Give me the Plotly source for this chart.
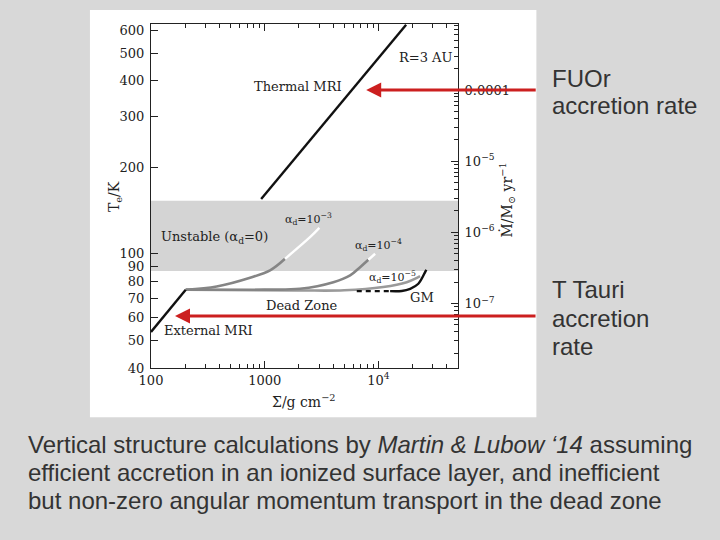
import numpy as np
import plotly.graph_objects as go

# ---------------- data ----------------
band_sigma = [100, 50000, 50000, 100, 100]
band_T = [87, 87, 153, 153, 87]

ext_sigma = [100, 202]
ext_T = [53.4, 74.9]

thermal_sigma = [930, 17500]
thermal_T = [155, 627]

a3_sigma = [202, 378, 743, 1114, 1507]
a3_T = [74.9, 76.9, 82.5, 87.5, 96.0]
a3w_sigma = [1507, 2500, 3020]
a3w_T = [96.0, 114.2, 123.0]

a4_sigma = [202, 1000, 2040, 4010, 5630, 6890, 8150]
a4_T = [74.9, 75.0, 75.5, 79.6, 84.1, 89.8, 95.3]
a4w_sigma = [8150, 9340]
a4w_T = [95.3, 100.0]

a5_sigma = [202, 2000, 5000, 11000, 17700, 22400, 23200]
a5_T = [74.9, 74.5, 74.6, 76.6, 79.6, 82.9, 83.5]

dz_sigma = [6440, 12650]
dz_T = [74.1, 74.1]

gm_sigma = [12650, 16000, 19000, 22400, 25700, 26300]
gm_T = [74.1, 74.2, 75.5, 78.6, 86.3, 88.0]

T_ticks = [40, 50, 60, 70, 80, 90, 100, 200, 300, 400, 500, 600]
sigma_ticks = [100, 1000, 10000]
sigma_ticktext = ["100", "1000", "10<sup>4</sup>"]
sigma_minor = [200, 300, 400, 500, 600, 700, 800, 900,
               2000, 3000, 4000, 5000, 6000, 7000, 8000, 9000,
               20000, 30000, 40000, 50000]
mdot_ticks = [1e-4, 1e-5, 1e-6, 1e-7]
mdot_ticktext = ["0.0001", "10<sup>−5</sup>", "10<sup>−6</sup>", "10<sup>−7</sup>"]
mdot_minor = [m * 10.0 ** e for e in range(-8, -3) for m in range(2, 10)]

fuor_rate = 1e-4
ttauri_rate = 6.7e-8

# ---------------- geometry helpers (pixel -> paper) ----------------
W, H = 720, 540
L, R, T, B = 151, 457.7, 24, 367.7


def px(x):
    return (x - L) / (R - L)


def py(y):
    return (B - y) / (B - T)


SERIF = "DejaVu Serif"
SANS = "Liberation Sans"
TXT = "#333333"
SLIDE_BG = "#d8d8d8"

fig = go.Figure()

fig.add_trace(go.Scatter(x=band_sigma, y=band_T, fill="toself", fillcolor="#d4d4d4",
                         line=dict(width=0), mode="lines", hoverinfo="skip"))

gray = "#858585"
fig.add_trace(go.Scatter(x=a5_sigma, y=a5_T, mode="lines", line=dict(color="#9a9a9a", width=2.6, shape="spline")))
fig.add_trace(go.Scatter(x=a4_sigma, y=a4_T, mode="lines", line=dict(color=gray, width=2.6, shape="spline")))
fig.add_trace(go.Scatter(x=a4w_sigma, y=a4w_T, mode="lines", line=dict(color="white", width=2.4)))
fig.add_trace(go.Scatter(x=a3_sigma, y=a3_T, mode="lines", line=dict(color=gray, width=2.6, shape="spline")))
fig.add_trace(go.Scatter(x=a3w_sigma, y=a3w_T, mode="lines", line=dict(color="white", width=2.4, shape="spline")))
fig.add_trace(go.Scatter(x=ext_sigma, y=ext_T, mode="lines", line=dict(color="#111111", width=2.4)))
fig.add_trace(go.Scatter(x=thermal_sigma, y=thermal_T, mode="lines", line=dict(color="#111111", width=2.4)))
fig.add_trace(go.Scatter(x=dz_sigma, y=dz_T, mode="lines", line=dict(color="#111111", width=2.4, dash="5px,4px")))
fig.add_trace(go.Scatter(x=gm_sigma, y=gm_T, mode="lines", line=dict(color="#111111", width=2.4, shape="spline")))
# accretion rates on the right axis (invisible, keeps axis active)
fig.add_trace(go.Scatter(x=[1000, 1000], y=[fuor_rate, ttauri_rate], yaxis="y2", mode="markers",
                         marker=dict(opacity=0, size=1), hoverinfo="skip"))

tickfont = dict(family=SERIF, size=13, color="#222222")
fig.update_layout(
    width=W, height=H,
    margin=dict(l=L, r=W - R, t=T, b=H - B, pad=0),
    paper_bgcolor=SLIDE_BG, plot_bgcolor="white",
    showlegend=False,
    xaxis=dict(type="log", range=[2, np.log10(50000)], tickvals=sigma_ticks, ticktext=sigma_ticktext,
               ticks="inside", ticklen=7, tickcolor="#222", showline=True, linecolor="#222", linewidth=1,
               mirror="ticks", showgrid=False, zeroline=False, tickfont=tickfont,
               minor=dict(tickvals=sigma_minor, ticks="inside", ticklen=4, tickcolor="#222", showgrid=False)),
    yaxis=dict(type="log", range=[np.log10(40), 2.80], tickvals=T_ticks, ticktext=[str(t) for t in T_ticks],
               ticks="inside", ticklen=7, tickcolor="#222", showline=True, linecolor="#222", linewidth=1,
               showgrid=False, zeroline=False, tickfont=tickfont, ticklabelstandoff=3),
    yaxis2=dict(type="log", overlaying="y", side="right", range=[-7.906, -3.072],
                tickvals=mdot_ticks, ticktext=mdot_ticktext, ticks="inside", ticklen=7, tickcolor="#222",
                showline=True, linecolor="#222", linewidth=1, showgrid=False, zeroline=False,
                tickfont=tickfont, ticklabelstandoff=3,
                minor=dict(tickvals=mdot_minor, ticks="inside", ticklen=4, tickcolor="#222", showgrid=False)),
)

# white image frame
fig.add_shape(type="rect", xref="paper", yref="paper", x0=px(90), x1=px(536), y0=py(417), y1=py(10),
              fillcolor="white", line=dict(width=0), layer="below")

ann = []


def lab(text, sig, temp, size=13):
    ann.append(dict(text=text, x=np.log10(sig), y=np.log10(temp), xref="x", yref="y", showarrow=False,
                    font=dict(family=SERIF, size=size, color="#222222"), xanchor="center", yanchor="middle"))


lab("Thermal MRI", 1975, 382)
lab("R=3 AU", 25700, 483)
lab("Unstable (α<sub>d</sub>=0)", 358, 114.2)
lab("α<sub>d</sub>=10<sup>−3</sup>", 2405, 131.6, 11)
lab("α<sub>d</sub>=10<sup>−4</sup>", 10100, 106.9, 11)
lab("α<sub>d</sub>=10<sup>−5</sup>", 13400, 82.9, 11)
lab("GM", 24000, 70.3)
lab("Dead Zone", 2113, 66.1)
lab("External MRI", 319, 54.1)

# axis titles
ttl = dict(xref="paper", yref="paper", showarrow=False, xanchor="center", yanchor="middle",
           font=dict(family=SERIF, size=14, color="#222222"))
ann.append(dict(text="T<sub>e</sub>/K", x=px(115), y=py(196), textangle=-90, **ttl))
ann.append(dict(text="Σ/g cm<sup>−2</sup>", x=px(304), y=py(401), **ttl))
ann.append(dict(text="Ṁ/M<sub>⊙</sub> yr<sup>−1</sup>", x=px(507), y=py(200), textangle=-90, **ttl))

# red arrows pointing at accretion rates
red = "#cc1f1f"
for head_px, rate in [(366, fuor_rate), (175, ttauri_rate)]:
    ann.append(dict(text="", x=px(head_px), y=np.log10(rate), xref="paper", yref="y2",
                    ax=537 - head_px, ay=0, axref="pixel", ayref="pixel", showarrow=True,
                    arrowhead=2, arrowsize=1, arrowwidth=3, arrowcolor=red, standoff=0))


# slide text
def slide(text, x, y):
    ann.append(dict(text=text, x=px(x), y=py(y), xref="paper", yref="paper", showarrow=False,
                    xanchor="left", yanchor="middle", font=dict(family=SANS, size=24, color=TXT)))


slide("FUOr", 550, 78)
slide("accretion rate", 550, 105)
slide("T Tauri", 550, 289)
slide("accretion", 550, 318)
slide("rate", 550, 346)
slide("Vertical structure calculations by <i>Martin &amp; Lubow ‘14</i> assuming", 26, 444)
slide("efficient accretion in an ionized surface layer, and inefficient", 26, 472)
slide("but non-zero angular momentum transport in the dead zone", 26, 500)

fig.update_layout(annotations=ann)
fig.write_html(
    "out.html",
    config={"displayModeBar": False},
    post_script="document.body.style.margin='0';document.body.style.padding='0';"
                "document.body.style.background='" + SLIDE_BG + "';"
                "document.documentElement.style.overflow='hidden';",
)
